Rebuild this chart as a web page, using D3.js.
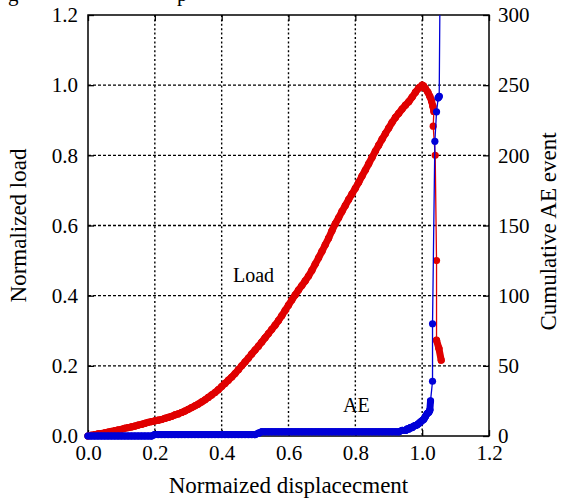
<!DOCTYPE html>
<html>
<head>
<meta charset="utf-8">
<script src="https://cdn.jsdelivr.net/npm/d3@7"></script>
<style>
  body { margin: 0; background: #fff; }
</style>
</head>
<body>
<svg id="chart"></svg>
<script>
const width = 561;
const height = 502;
const margin = { top: 15, right: 72, bottom: 66, left: 88 };
const serif = '"Liberation Serif", "Times New Roman", Times, "DejaVu Serif", serif';

// Load curve (red, left axis)
const loadDisp = [
	0.00, 0.01, 0.02, 0.03, 0.04, 0.05, 0.06, 0.07, 0.08, 0.09,
	0.10, 0.11, 0.12, 0.13, 0.14, 0.15, 0.16, 0.17, 0.18, 0.19,
	0.20, 0.21, 0.22, 0.23, 0.24, 0.25, 0.26, 0.27, 0.28, 0.29,
	0.30, 0.31, 0.32, 0.33, 0.34, 0.35, 0.36, 0.37, 0.38, 0.39,
	0.40, 0.41, 0.42, 0.43, 0.44, 0.45, 0.46, 0.47, 0.48, 0.49,
	0.50, 0.51, 0.52, 0.53, 0.54, 0.55, 0.56, 0.57, 0.58, 0.59,
	0.60, 0.61, 0.62, 0.63, 0.64, 0.65, 0.66, 0.67, 0.68, 0.69,
	0.70, 0.71, 0.72, 0.73, 0.74, 0.75, 0.76, 0.77, 0.78, 0.79,
	0.80, 0.81, 0.82, 0.83, 0.84, 0.85, 0.86, 0.87, 0.88, 0.89,
	0.90, 0.91, 0.92, 0.93, 0.94, 0.95, 0.96, 0.97, 0.98, 0.99,
	1.00, 1.004, 1.010, 1.017, 1.023, 1.028, 1.032, 1.035, 1.033, 1.039,
	1.043, 1.043, 1.050, 1.057
];
const loadValues = [
	0.000, 0.002, 0.004, 0.006, 0.007, 0.009, 0.011, 0.013, 0.015, 0.017,
	0.019, 0.022, 0.024, 0.026, 0.028, 0.031, 0.033, 0.036, 0.039, 0.041,
	0.043, 0.045, 0.047, 0.050, 0.053, 0.056, 0.060, 0.063, 0.067, 0.071,
	0.076, 0.081, 0.086, 0.091, 0.097, 0.103, 0.110, 0.117, 0.124, 0.132,
	0.141, 0.150, 0.159, 0.168, 0.178, 0.189, 0.200, 0.211, 0.222, 0.234,
	0.245, 0.256, 0.268, 0.280, 0.292, 0.304, 0.316, 0.329, 0.343, 0.358,
	0.373, 0.388, 0.402, 0.416, 0.429, 0.442, 0.456, 0.472, 0.490, 0.508,
	0.526, 0.545, 0.564, 0.585, 0.605, 0.622, 0.640, 0.657, 0.674, 0.690,
	0.706, 0.723, 0.741, 0.758, 0.776, 0.794, 0.812, 0.829, 0.846, 0.862,
	0.878, 0.894, 0.908, 0.920, 0.932, 0.943, 0.953, 0.966, 0.980, 0.992,
	1.000, 0.998, 0.990, 0.980, 0.968, 0.955, 0.940, 0.925, 0.883, 0.800,
	0.500, 0.273, 0.250, 0.216
];

// Cumulative AE events (blue, right axis)
const aeDisp = [
	0.00, 0.01, 0.02, 0.03, 0.04, 0.05, 0.06, 0.07, 0.08, 0.09,
	0.10, 0.11, 0.12, 0.13, 0.14, 0.15, 0.16, 0.17, 0.18, 0.19,
	0.20, 0.21, 0.22, 0.23, 0.24, 0.25, 0.26, 0.27, 0.28, 0.29,
	0.30, 0.31, 0.32, 0.33, 0.34, 0.35, 0.36, 0.37, 0.38, 0.39,
	0.40, 0.41, 0.42, 0.43, 0.44, 0.45, 0.46, 0.47, 0.48, 0.49,
	0.50, 0.51, 0.52, 0.53, 0.54, 0.55, 0.56, 0.57, 0.58, 0.59,
	0.60, 0.61, 0.62, 0.63, 0.64, 0.65, 0.66, 0.67, 0.68, 0.69,
	0.70, 0.71, 0.72, 0.73, 0.74, 0.75, 0.76, 0.77, 0.78, 0.79,
	0.80, 0.81, 0.82, 0.83, 0.84, 0.85, 0.86, 0.87, 0.88, 0.89,
	0.90, 0.91, 0.92, 0.93, 0.94, 0.95, 0.955, 0.96, 0.965, 0.97,
	0.975, 0.98, 0.985, 0.99, 0.995, 1.00, 1.005, 1.01, 1.015, 1.02,
	1.023, 1.025, 1.031, 1.031, 1.038, 1.043, 1.048, 1.051, 1.056
];
const aeValues = [
	0, 0, 0, 0, 0, 0, 0, 0, 0, 0,
	0, 0, 0, 0, 0, 0, 0, 0, 0, 0,
	1, 1, 1, 1, 1, 1, 1, 1, 1, 1,
	1, 1, 1, 1, 1, 1, 1, 1, 1, 1,
	1, 1, 1, 1, 1, 1, 1, 1, 1, 1,
	1, 2, 3, 3, 3, 3, 3, 3, 3, 3,
	3, 3, 3, 3, 3, 3, 3, 3, 3, 3,
	3, 3, 3, 3, 3, 3, 3, 3, 3, 3,
	3, 3, 3, 3, 3, 3, 3, 3, 3, 3,
	3, 3, 3, 3, 4, 4, 5, 5, 6, 6,
	7, 7.5, 8, 9, 10, 11, 12, 14, 16, 17,
	18.5, 25, 39, 80, 210, 231, 241, 242, 400
];

const xTicks = [0, 0.2, 0.4, 0.6, 0.8, 1.0, 1.2];
const loadTicks = [0, 0.2, 0.4, 0.6, 0.8, 1.0, 1.2];
const aeTicks = [0, 50, 100, 150, 200, 250, 300];

const red = "#e00000";
const blue = "#0000d8";

const svg = d3.select("#chart").attr("width", width).attr("height", height);

const x = d3.scaleLinear().domain([0, 1.2]).range([margin.left, width - margin.right]);
const yL = d3.scaleLinear().domain([0, 1.2]).range([height - margin.bottom, margin.top]);
const yR = d3.scaleLinear().domain([0, 300]).range([height - margin.bottom, margin.top]);

// clip only the top edge so markers at x=0 can still poke out on the left
svg.append("clipPath").attr("id", "plotClip")
	.append("rect")
	.attr("x", 0).attr("y", margin.top)
	.attr("width", width).attr("height", height - margin.top);

// gridlines
svg.append("g")
	.selectAll("line")
	.data(xTicks.slice(1, -1))
	.join("line")
	.attr("x1", (d) => x(d)).attr("x2", (d) => x(d))
	.attr("y1", margin.top).attr("y2", height - margin.bottom)
	.attr("stroke", "#000").attr("stroke-width", 1.4)
	.attr("stroke-dasharray", "2,2.4");

svg.append("g")
	.selectAll("line")
	.data(loadTicks.slice(1, -1))
	.join("line")
	.attr("x1", margin.left).attr("x2", width - margin.right)
	.attr("y1", (d) => yL(d)).attr("y2", (d) => yL(d))
	.attr("stroke", "#000").attr("stroke-width", 1.4)
	.attr("stroke-dasharray", "3,2");

// axes
const axisStyle = (g) => {
	g.attr("font-family", null);
	g.select(".domain").remove();
	g.selectAll(".tick line").attr("stroke", "#000").attr("stroke-width", 1.3);
	g.selectAll(".tick text")
		.attr("fill", "#000")
		.style("font-family", serif)
		.style("font-size", "21px");
};

svg.append("g")
	.attr("transform", `translate(0,${height - margin.bottom})`)
	.call(d3.axisBottom(x).tickValues(xTicks).tickFormat(d3.format(".1f")).tickSize(-6).tickPadding(9))
	.call(axisStyle);

svg.append("g")
	.attr("transform", `translate(0,${margin.top})`)
	.call(d3.axisTop(x).tickValues(xTicks).tickFormat("").tickSize(-6))
	.call(axisStyle);

svg.append("g")
	.attr("transform", `translate(${margin.left},0)`)
	.call(d3.axisLeft(yL).tickValues(loadTicks).tickFormat(d3.format(".1f")).tickSize(-6).tickPadding(10))
	.call(axisStyle);

svg.append("g")
	.attr("transform", `translate(${width - margin.right},0)`)
	.call(d3.axisRight(yR).tickValues(aeTicks).tickSize(-6).tickPadding(9))
	.call(axisStyle);

// frame
svg.append("rect")
	.attr("x", margin.left).attr("y", margin.top)
	.attr("width", width - margin.left - margin.right)
	.attr("height", height - margin.top - margin.bottom)
	.attr("fill", "none").attr("stroke", "#000").attr("stroke-width", 1.5);

// series: thin connecting line, markers; where markers crowd, the
// joining segment is drawn as thick as a marker so it reads as a band
function drawSeries(xs, ys, yScale, color) {
	const pts = xs.map((d, i) => [x(d), yScale(ys[i])]);
	const segs = d3.pairs(pts);
	const g = svg.append("g").attr("clip-path", "url(#plotClip)");
	g.selectAll("line")
		.data(segs)
		.join("line")
		.attr("x1", (d) => d[0][0]).attr("y1", (d) => d[0][1])
		.attr("x2", (d) => d[1][0]).attr("y2", (d) => d[1][1])
		.attr("stroke", color)
		.attr("stroke-linecap", "round")
		.attr("stroke-width", (d) => (Math.hypot(d[1][0] - d[0][0], d[1][1] - d[0][1]) < 14 ? 7 : 1.3));
	g.selectAll("circle")
		.data(pts)
		.join("circle")
		.attr("cx", (d) => d[0])
		.attr("cy", (d) => d[1])
		.attr("r", 3.6)
		.attr("fill", color);
}

drawSeries(loadDisp, loadValues, yL, red);
drawSeries(aeDisp, aeValues, yR, blue);

const addText = (xp, yp, size, str) =>
	svg.append("text")
		.attr("x", xp).attr("y", yp)
		.attr("fill", "#000")
		.style("font-family", serif)
		.style("font-size", size + "px")
		.text(str);

// labels inside the plot
addText(233, 282, 20, "Load");
addText(343, 412, 20, "AE");

// axis titles
addText((margin.left + width - margin.right) / 2, 493, 23, "Normaized displacecment")
	.attr("text-anchor", "middle");

addText(0, 0, 23, "Normalized load")
	.attr("transform", `translate(26,${(margin.top + height - margin.bottom) / 2}) rotate(-90)`)
	.attr("text-anchor", "middle");

addText(0, 0, 23, "Cumulative AE event")
	.attr("transform", `translate(556,${(margin.top + height - margin.bottom) / 2 + 6}) rotate(-90)`)
	.attr("text-anchor", "middle");

// cut-off caption remnants at the very top edge
addText(8, 1, 21, "g");
addText(177, 1, 21, "p");
</script>
</body>
</html>
